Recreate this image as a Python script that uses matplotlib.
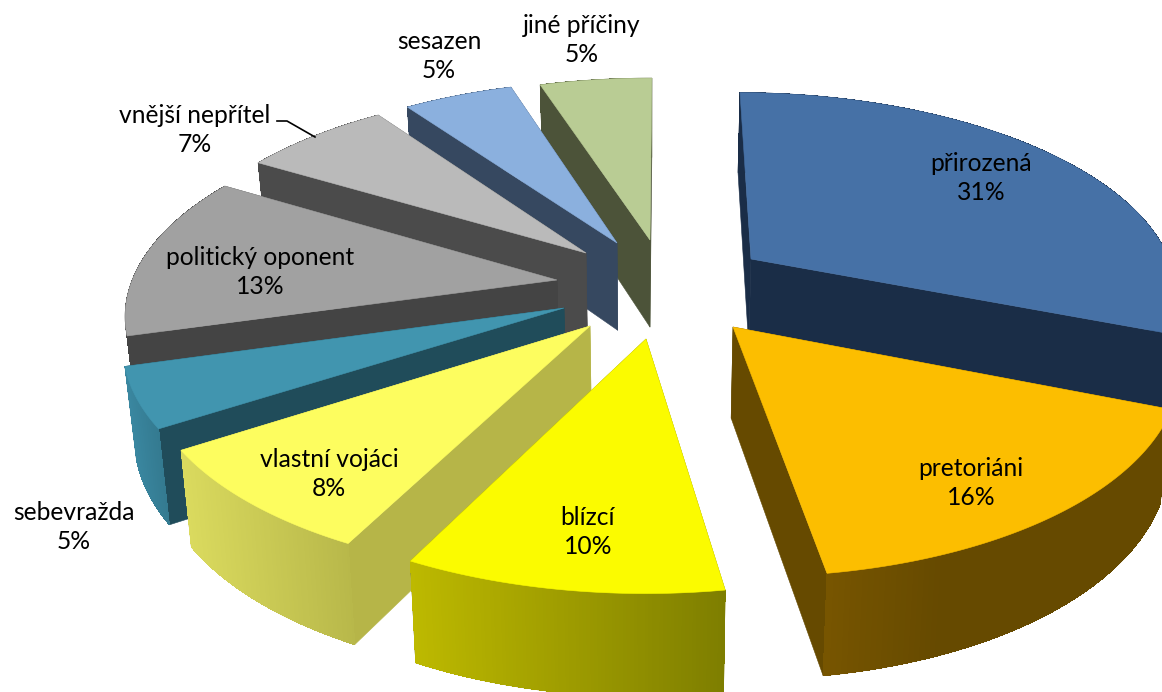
import numpy as np
import matplotlib
matplotlib.use("Agg")
import matplotlib.pyplot as plt
from matplotlib.patches import Polygon
from matplotlib.colors import to_rgb

# ---- data (clockwise from the top) ----
categories = ["přirozená", "pretoriáni", "blízcí", "vlastní vojáci", "sebevražda",
              "politický oponent", "vnější nepřítel", "sesazen", "jiné příčiny"]
pct_labels = [31, 16, 10, 8, 5, 13, 7, 5, 5]
shares = [31.0, 16.6, 10.0, 8.4, 4.7, 13.0, 6.65, 4.9, 5.0]   # wedge sizes

# ---- styles ----
top_colors = ["#4671A6", "#FCBE00", "#FBFB00", "#FDFD5F", "#4195AF",
              "#A1A1A1", "#BABABA", "#8BB0DE", "#B9CC94"]
wall_colors = ["#1A2D47", "#664A00", "#808000", "#B6B548", "#204C5A",
               "#444444", "#4B4B4B", "#364860", "#4C5339"]
rim_left = ["#1A2D47", "#775500", "#BDB900", "#DADA5E", "#3A87A0",
            "#444444", "#4B4B4B", "#364860", "#4C5339"]
rim_right = ["#1A2D47", "#664A00", "#7E7E00", "#B8B84A", "#347A90",
             "#444444", "#4B4B4B", "#364860", "#4C5339"]
apex_px = [(751, 259), (733, 327), (646, 339), (590, 326), (564, 308),
           (557, 280), (586, 253), (617, 243), (650, 240)]
label_px = [(981, 178), (971, 483), (588, 532), (329, 474), (74, 527),
            (260, 272), (195, 130), (439, 56), (582, 40)]
draw_order = [8, 7, 6, 5, 4, 3, 0, 1, 2]
start_deg = 0.3
cx, cy, rx, ry, k, depth, shrink = 650.0, 290.0, 428.0, 200.0, 0.15, 89.5, 0.978

plt.rcParams["font.family"] = ["Lato", "DejaVu Sans"]


def project(X, Y, z=0.0):
    s = 1.0 / (1.0 + k * Y)
    x = cx + rx * X * s * (1.0 - (1.0 - shrink) * z)
    y = cy - ry * Y * s + depth * z * s ** 0.7
    return np.column_stack([x, y])


def ground(px, py):
    dy = cy - py
    Y = dy / (ry - k * dy)
    X = (px - cx) * (1.0 + k * Y) / rx
    return X, Y


fig = plt.figure(figsize=(11.62, 6.92), dpi=100)
ax = fig.add_axes([0, 0, 1, 1])
ax.set_xlim(0, 1162)
ax.set_ylim(692, 0)
ax.axis("off")

total = sum(shares)
edges = start_deg + np.concatenate([[0], np.cumsum(shares)]) / total * 360.0


def add(pts, color, zorder, aa=True, lw=0.4):
    ax.add_patch(Polygon(pts, closed=True, facecolor=color, edgecolor=color,
                         linewidth=lw, antialiased=aa, zorder=zorder))


for rank, i in enumerate(draw_order):
    zo = 2 + rank
    X0, Y0 = ground(*apex_px[i])
    th = np.radians(np.linspace(edges[i], edges[i + 1], 90))
    Xa = X0 + np.sin(th)
    Ya = Y0 + np.cos(th)
    vx, vy = np.array([X0]), np.array([Y0])
    # radial walls
    for j in (0, -1):
        ex, ey = np.array([Xa[j]]), np.array([Ya[j]])
        pts = np.vstack([project(vx, vy), project(ex, ey), project(ex, ey, 1.0), project(vx, vy, 1.0)])
        add(pts, wall_colors[i], zo)
    # outer rim: an anti-aliased base, then flat strips shaded across the screen
    top = project(Xa, Ya)
    bot = project(Xa, Ya, 1.0)
    add(np.vstack([top, bot[::-1]]), rim_right[i], zo)
    xs = top[:, 0]
    span = max(xs.max() - xs.min(), 1.0)
    c0, c1 = np.array(to_rgb(rim_left[i])), np.array(to_rgb(rim_right[i]))
    for n in range(len(th) - 1):
        t = np.clip(((xs[n] + xs[n + 1]) / 2 - xs.min()) / span, 0, 1)
        if i == 1:
            t = min(t * 3.0, 1.0)
        col = tuple(c0 + (c1 - c0) * t)
        add(np.vstack([top[n], top[n + 1], bot[n + 1], bot[n]]), col, zo, aa=False, lw=0.0)
    # top face
    add(np.vstack([project(vx, vy), top]), top_colors[i], zo)

# leader line of the one label placed off its wedge
ax.plot([277, 287, 315], [121, 121, 137], color="black", lw=1.2, zorder=30)

for name, pct, (lx, ly) in zip(categories, pct_labels, label_px):
    ax.text(lx, ly, f"{name}\n{pct}%", ha="center", va="center", fontsize=17.7,
            color="black", linespacing=1.36, zorder=40)

fig.savefig("out.png", dpi=100, facecolor="white")
